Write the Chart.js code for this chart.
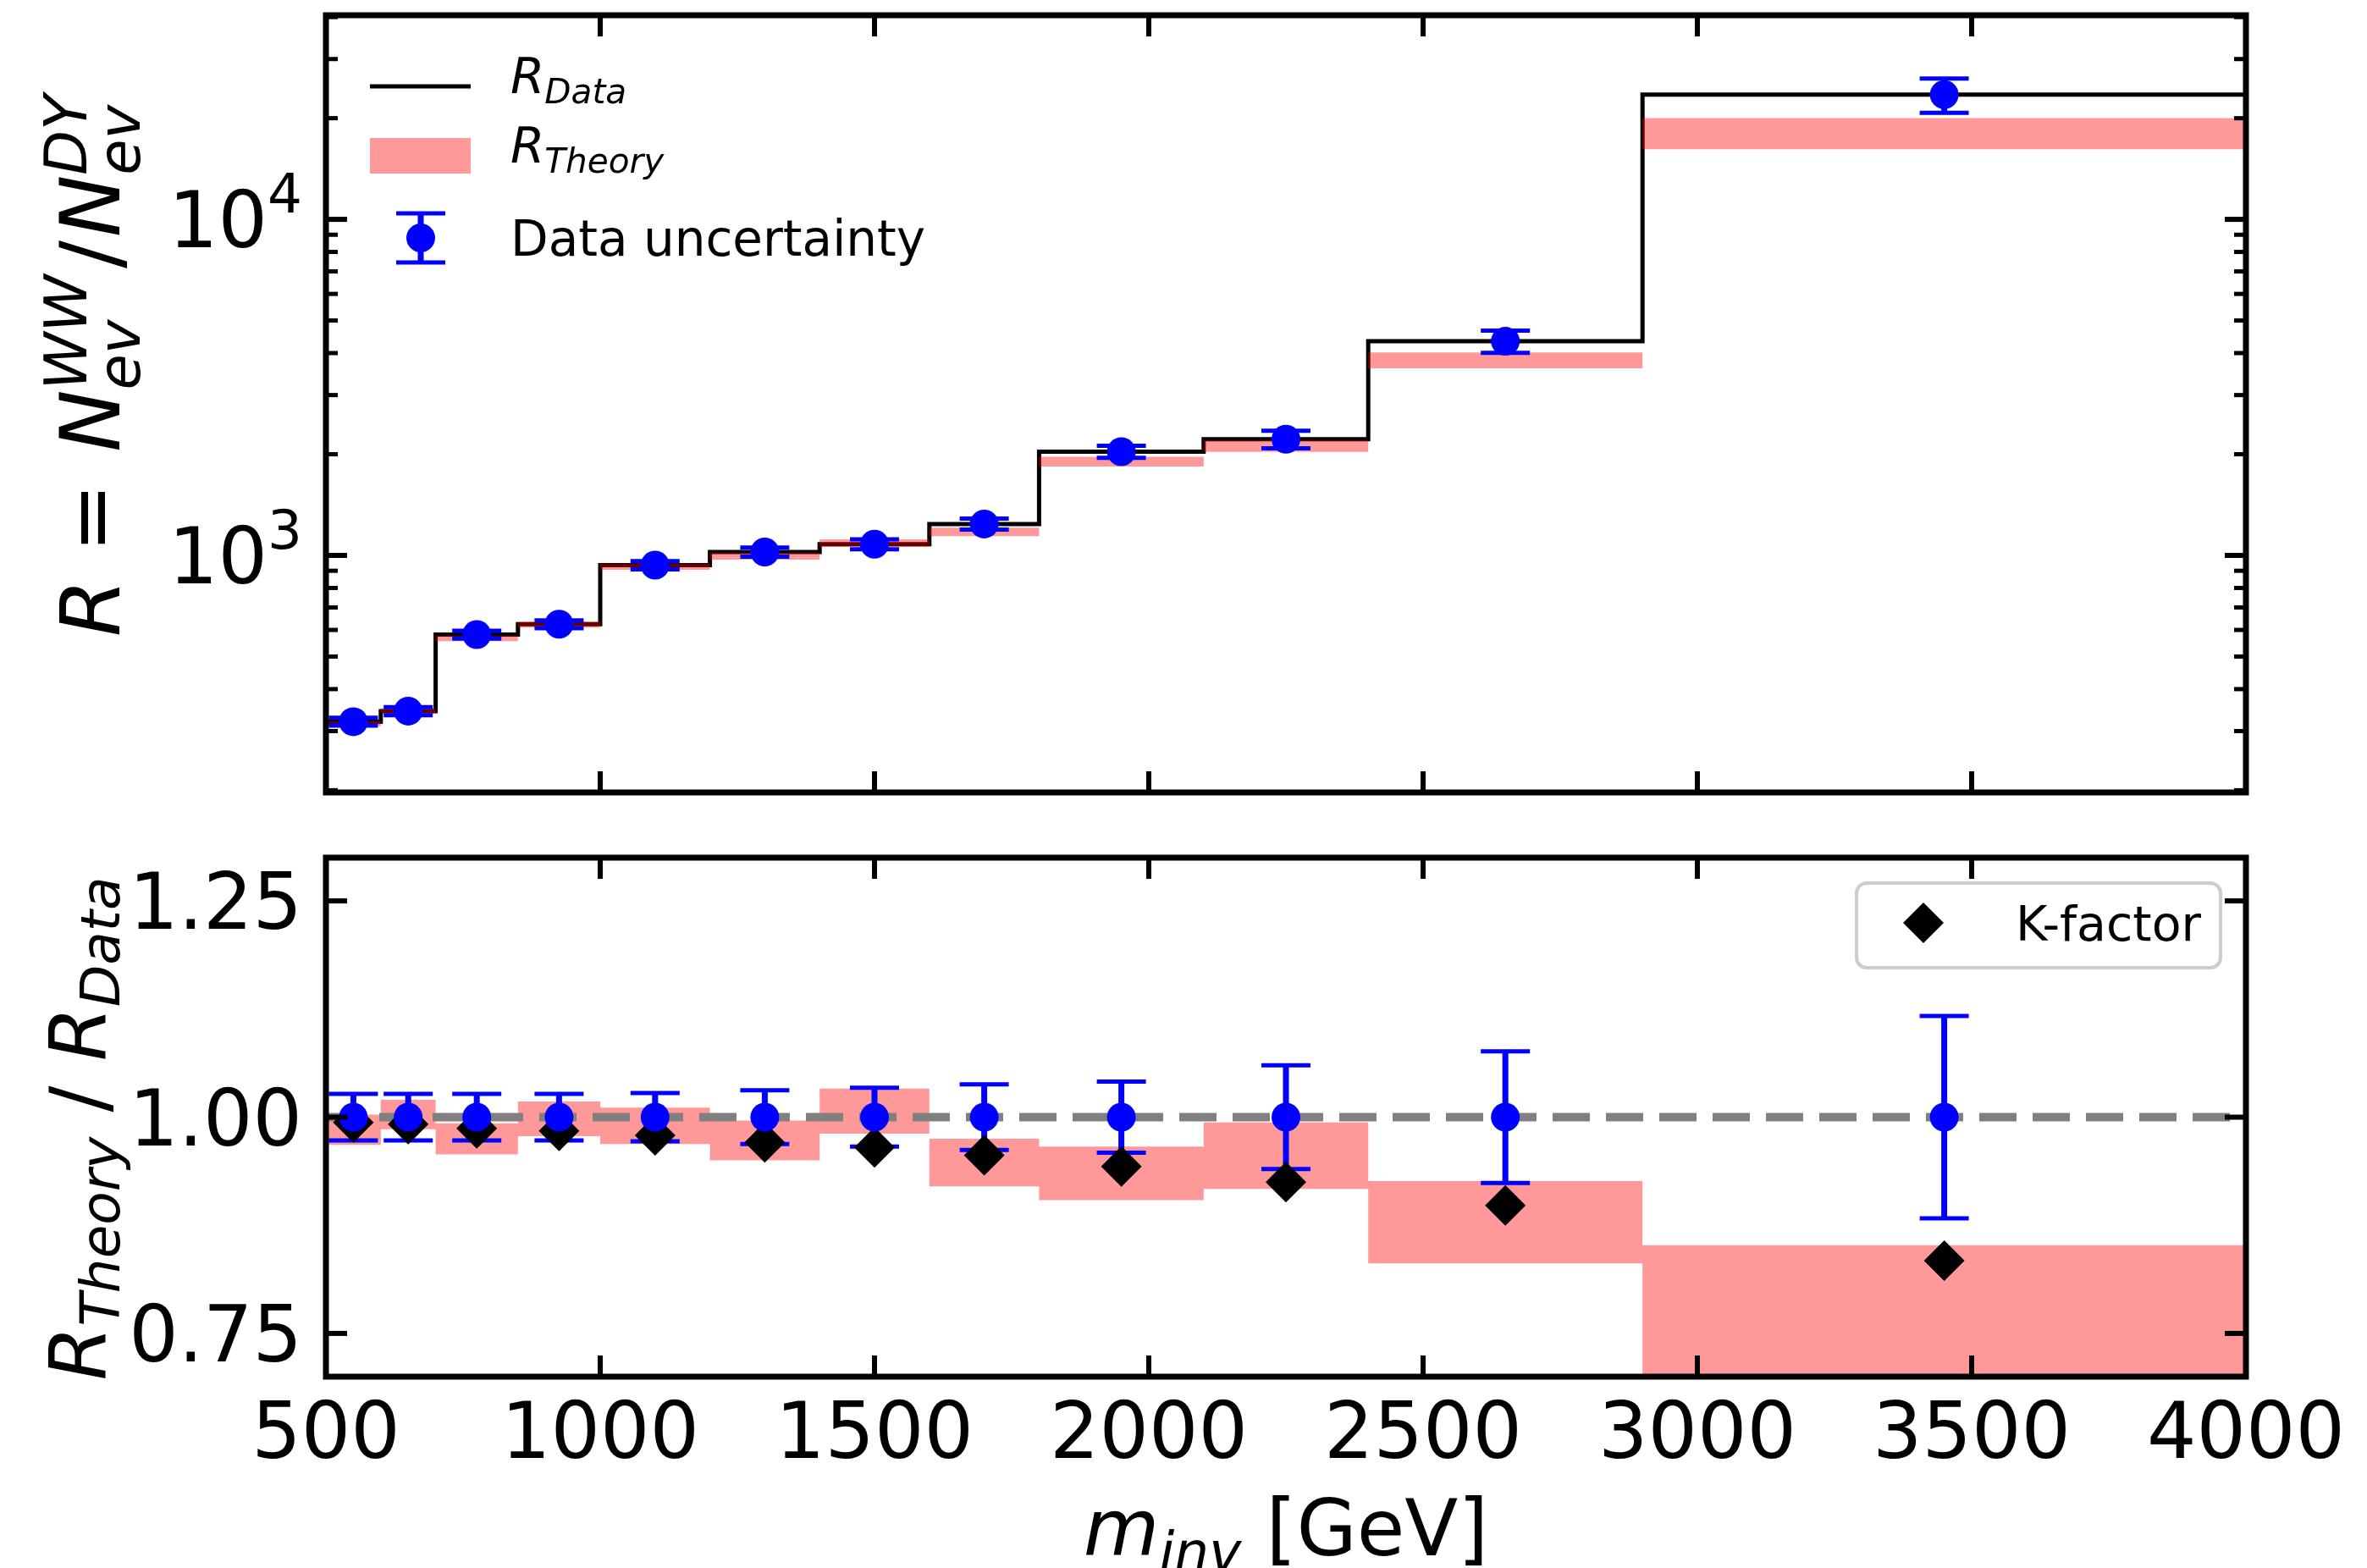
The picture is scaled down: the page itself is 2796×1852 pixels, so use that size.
<!DOCTYPE html>
<html>
<head>
<meta charset="utf-8">
<script src="https://cdn.jsdelivr.net/npm/chart.js@4.4.0/dist/chart.umd.min.js"></script>
<style>
  html, body { margin: 0; padding: 0; background: #fff; }
  #wrap { position: relative; width: 2796px; height: 1852px; }
  #topChart { position: absolute; left: 0; top: 0; }
  #ratioChart { position: absolute; left: 0; top: 980px; }
</style>
</head>
<body>
<div id="wrap">
  <canvas id="topChart" width="2796" height="980"></canvas>
  <canvas id="ratioChart" width="2796" height="872"></canvas>
</div>
<script>
// bins in m_inv [GeV]
const binEdges = [500, 600, 700, 850, 1000, 1200, 1400, 1600, 1800, 2100, 2400, 2900, 4000];
const binCenters = [550, 650, 775, 925, 1100, 1300, 1500, 1700, 1950, 2250, 2650, 3450];

// R = N_WW / N_DY
const rData = [320, 344, 581, 624, 935, 1023, 1080, 1240, 2035, 2217, 4337, 23500];
const dataErrRel = [0.027, 0.027, 0.027, 0.027, 0.028, 0.031, 0.034, 0.038, 0.041, 0.060, 0.076, 0.117];
const theoryLow = [310, 339, 556, 610, 906, 972, 1059, 1141, 1840, 2033, 3604, 16170];
const theoryHigh = [321, 351, 577, 635, 945, 1019, 1116, 1209, 1966, 2204, 4016, 20020];

// ratio panel
const dataRatio = [1, 1, 1, 1, 1, 1, 1, 1, 1, 1, 1, 1];
const ratioLow = [0.968, 0.986, 0.957, 0.978, 0.969, 0.950, 0.981, 0.920, 0.904, 0.917, 0.831, 0.688];
const ratioHigh = [1.003, 1.020, 0.993, 1.018, 1.011, 0.996, 1.033, 0.975, 0.966, 0.994, 0.926, 0.852];
const kFactor = [0.994, 0.992, 0.987, 0.984, 0.979, 0.971, 0.965, 0.956, 0.943, 0.925, 0.898, 0.834];
const refLine = 1.0;

// ticks
const xTicks = [500, 1000, 1500, 2000, 2500, 3000, 3500, 4000];
const yTicksTop = [1000, 10000];
const yTicksTopExp = ['3', '4'];
const yMinorTop = [200, 300, 400, 500, 600, 700, 800, 900, 2000, 3000, 4000, 5000, 6000, 7000, 8000, 9000, 20000, 30000, 40000];
const yTicksRatio = [0.75, 1.00, 1.25];

const FONT = '"DejaVu Sans"';
const BAND = 'rgba(255,0,0,0.4)';

function stepPoints(values) {
  const pts = values.map((v, i) => ({ x: binEdges[i], y: v }));
  pts.push({ x: binEdges[binEdges.length - 1], y: values[values.length - 1] });
  return pts;
}

function fontStr(px, italic) {
  return (italic ? 'italic ' : '') + px + 'px ' + FONT;
}

// tiny mathtext-like layout: {t, it, s, dy} or {sub, sup}
function drawRich(ctx, tokens, size, x, y, align) {
  let w = 0;
  const items = [];
  tokens.forEach(tk => {
    if (tk.sub !== undefined) {
      const f = fontStr(size * 0.7, true);
      ctx.font = f;
      const w1 = ctx.measureText(tk.sub).width, w2 = ctx.measureText(tk.sup).width;
      items.push({ t: tk.sub, x: w, dy: size * 0.24, font: f });
      items.push({ t: tk.sup, x: w, dy: -size * 0.4, font: f });
      w += Math.max(w1, w2) + (tk.gap || 0) * size;
    } else {
      const f = fontStr(size * (tk.s || 1), !!tk.it);
      ctx.font = f;
      items.push({ t: tk.t, x: w, dy: (tk.dy || 0) * size, font: f });
      w += ctx.measureText(tk.t).width + (tk.gap || 0) * size;
    }
  });
  const x0 = align === 'center' ? x - w / 2 : align === 'right' ? x - w : x;
  ctx.textAlign = 'left';
  ctx.textBaseline = 'alphabetic';
  ctx.fillStyle = '#000';
  items.forEach(it => {
    ctx.font = it.font;
    ctx.fillText(it.t, x0 + it.x, y + it.dy);
  });
}

function diamond(ctx, x, y, r) {
  ctx.beginPath();
  ctx.moveTo(x, y - r);
  ctx.lineTo(x + r, y);
  ctx.lineTo(x, y + r);
  ctx.lineTo(x - r, y);
  ctx.closePath();
  ctx.fill();
}

function errorBar(ctx, x, yTop, yBot) {
  ctx.strokeStyle = '#0000ff';
  ctx.lineWidth = 7;
  ctx.beginPath();
  ctx.moveTo(x, yTop);
  ctx.lineTo(x, yBot);
  ctx.stroke();
  ctx.lineWidth = 5;
  ctx.beginPath();
  ctx.moveTo(x - 29, yTop); ctx.lineTo(x + 29, yTop);
  ctx.moveTo(x - 29, yBot); ctx.lineTo(x + 29, yBot);
  ctx.stroke();
}

// error bars under the marker datasets
const errPlugin = {
  id: 'errbars',
  beforeDatasetDraw(chart, args, opts) {
    if (args.index !== opts.before) return;
    const { ctx, scales } = chart;
    ctx.save();
    opts.centers.forEach((c, i) => {
      const x = scales.x.getPixelForValue(c);
      const v = opts.values[i];
      const e = opts.rel[i] * opts.scale[i];
      errorBar(ctx, x, scales.y.getPixelForValue(v + e), scales.y.getPixelForValue(v - e));
    });
    ctx.restore();
  }
};

// inward ticks on all sides, spines, tick labels, axis labels
const framePlugin = {
  id: 'frame',
  afterDraw(chart, args, opts) {
    const { ctx, chartArea: a, scales } = chart;
    ctx.save();
    ctx.strokeStyle = '#000';
    ctx.lineCap = 'butt';
    const line = (x1, y1, x2, y2, w) => {
      ctx.lineWidth = w;
      ctx.beginPath(); ctx.moveTo(x1, y1); ctx.lineTo(x2, y2); ctx.stroke();
    };
    xTicks.forEach(v => {
      const px = scales.x.getPixelForValue(v);
      line(px, a.bottom, px, a.bottom - 25, 6);
      line(px, a.top, px, a.top + 25, 6);
    });
    opts.yMajor.forEach(v => {
      const py = scales.y.getPixelForValue(v);
      line(a.left, py, a.left + 25, py, 6);
      line(a.right, py, a.right - 25, py, 6);
    });
    (opts.yMinor || []).forEach(v => {
      const py = scales.y.getPixelForValue(v);
      line(a.left, py, a.left + 14, py, 5);
      line(a.right, py, a.right - 14, py, 5);
    });
    ctx.lineWidth = 7;
    ctx.strokeRect(a.left, a.top, a.right - a.left, a.bottom - a.top);

    // y tick labels
    ctx.fillStyle = '#000';
    if (opts.logLabels) {
      opts.yMajor.forEach((v, i) => {
        const py = scales.y.getPixelForValue(v);
        drawRich(ctx, [{ t: '10' }, { t: yTicksTopExp[i], s: 0.7, dy: -0.45 }], 92, a.left - 28, py + 33, 'right');
      });
    } else {
      opts.yMajor.forEach(v => {
        const py = scales.y.getPixelForValue(v);
        ctx.font = fontStr(92, false);
        ctx.textAlign = 'right';
        ctx.textBaseline = 'alphabetic';
        ctx.fillText(v.toFixed(2), a.left - 28, py + 33);
      });
    }
    if (opts.xLabels) {
      ctx.font = fontStr(92, false);
      ctx.textAlign = 'center';
      ctx.textBaseline = 'alphabetic';
      xTicks.forEach(v => ctx.fillText(String(v), scales.x.getPixelForValue(v), a.bottom + 96));
      drawRich(ctx, [{ t: 'm', it: true }, { t: 'inv', it: true, s: 0.7, dy: 0.2 }, { t: ' [GeV]' }],
        92, (a.left + a.right) / 2, 857, 'center');
    }
    // rotated y label
    ctx.save();
    ctx.translate(opts.yLabelX, opts.yLabelY);
    ctx.rotate(-Math.PI / 2);
    drawRich(ctx, opts.yLabel, opts.yLabelSize, 0, 0, 'center');
    ctx.restore();
    ctx.restore();
  }
};

// top legend (no frame)
const topLegendPlugin = {
  id: 'topLegend',
  afterDraw(chart) {
    const ctx = chart.ctx;
    ctx.save();
    ctx.strokeStyle = '#000';
    ctx.lineWidth = 5;
    ctx.beginPath(); ctx.moveTo(437, 102); ctx.lineTo(556, 102); ctx.stroke();
    drawRich(ctx, [{ t: 'R', it: true }, { t: 'Data', it: true, s: 0.7, dy: 0.2 }], 58, 603, 110, 'left');

    ctx.fillStyle = BAND;
    ctx.fillRect(437, 163, 119, 42);
    drawRich(ctx, [{ t: 'R', it: true }, { t: 'Theory', it: true, s: 0.7, dy: 0.2 }], 58, 603, 192, 'left');

    errorBar(ctx, 497, 252, 310);
    ctx.fillStyle = '#0000ff';
    ctx.beginPath(); ctx.arc(497, 281, 17, 0, Math.PI * 2); ctx.fill();
    drawRich(ctx, [{ t: 'Data uncertainty' }], 58, 603, 302, 'left');
    ctx.restore();
  }
};

// ratio legend (framed)
const ratioLegendPlugin = {
  id: 'ratioLegend',
  afterDraw(chart) {
    const ctx = chart.ctx;
    ctx.save();
    const x = 2193, y = 63, w = 430, h = 100, r = 12;
    ctx.beginPath();
    ctx.roundRect(x, y, w, h, r);
    ctx.fillStyle = 'rgba(255,255,255,0.8)';
    ctx.fill();
    ctx.strokeStyle = '#cccccc';
    ctx.lineWidth = 4;
    ctx.stroke();
    ctx.fillStyle = '#000';
    diamond(ctx, 2272, 110, 24);
    drawRich(ctx, [{ t: 'K-factor' }], 57, 2381, 131, 'left');
    ctx.restore();
  }
};

new Chart(document.getElementById('topChart'), {
  type: 'line',
  data: {
    datasets: [
      {
        label: 'Data uncertainty',
        data: binCenters.map((x, i) => ({ x, y: rData[i] })),
        showLine: false,
        pointRadius: 17,
        pointBackgroundColor: '#0000ff',
        pointBorderWidth: 0,
        order: 0
      },
      {
        label: 'R_Theory',
        data: stepPoints(theoryHigh),
        stepped: true,
        fill: 2,
        backgroundColor: BAND,
        borderColor: 'rgba(0,0,0,0)',
        borderWidth: 0,
        pointRadius: 0,
        order: 1
      },
      {
        label: 'R_Theory low',
        data: stepPoints(theoryLow),
        stepped: true,
        fill: false,
        borderColor: 'rgba(0,0,0,0)',
        borderWidth: 0,
        pointRadius: 0,
        order: 2
      },
      {
        label: 'R_Data',
        data: stepPoints(rData),
        stepped: true,
        fill: false,
        borderColor: '#000000',
        borderWidth: 5,
        pointRadius: 0,
        order: 3
      }
    ]
  },
  options: {
    responsive: false,
    animation: false,
    layout: { padding: { left: 385, right: 143, top: 18, bottom: 44 } },
    scales: {
      x: { type: 'linear', min: 500, max: 4000, display: false },
      y: { type: 'logarithmic', min: 197, max: 40500, display: false }
    },
    plugins: {
      legend: { display: false },
      tooltip: { enabled: false },
      errbars: { before: 0, centers: binCenters, values: rData, rel: dataErrRel, scale: rData },
      frame: {
        yMajor: yTicksTop,
        yMinor: yMinorTop,
        logLabels: true,
        xLabels: false,
        yLabelX: 141,
        yLabelY: 432,
        yLabelSize: 98,
        yLabel: [
          { t: 'R', it: true }, { t: ' = ', gap: 0.06 }, { t: 'N', it: true }, { sub: 'ev', sup: 'WW', gap: 0.08 },
          { t: '/', gap: 0.04 }, { t: 'N', it: true }, { sub: 'ev', sup: 'DY' }
        ]
      }
    }
  },
  plugins: [errPlugin, framePlugin, topLegendPlugin]
});

new Chart(document.getElementById('ratioChart'), {
  type: 'line',
  data: {
    datasets: [
      {
        label: 'Data uncertainty',
        data: binCenters.map((x, i) => ({ x, y: dataRatio[i] })),
        showLine: false,
        pointRadius: 17,
        pointBackgroundColor: '#0000ff',
        pointBorderWidth: 0,
        order: 0
      },
      {
        label: 'K-factor',
        data: binCenters.map((x, i) => ({ x, y: kFactor[i] })),
        showLine: false,
        pointStyle: 'rectRot',
        pointRadius: 24,
        pointBackgroundColor: '#000000',
        pointBorderWidth: 0,
        order: 1
      },
      {
        label: 'ref',
        data: [{ x: binEdges[0], y: refLine }, { x: binEdges[binEdges.length - 1], y: refLine }],
        borderColor: '#808080',
        borderWidth: 10,
        borderDash: [44, 19],
        pointRadius: 0,
        fill: false,
        order: 2
      },
      {
        label: 'ratio band',
        data: stepPoints(ratioHigh),
        stepped: true,
        fill: 4,
        backgroundColor: BAND,
        borderColor: 'rgba(0,0,0,0)',
        borderWidth: 0,
        pointRadius: 0,
        order: 3
      },
      {
        label: 'ratio band low',
        data: stepPoints(ratioLow),
        stepped: true,
        fill: false,
        borderColor: 'rgba(0,0,0,0)',
        borderWidth: 0,
        pointRadius: 0,
        order: 4
      }
    ]
  },
  options: {
    responsive: false,
    animation: false,
    layout: { padding: { left: 385, right: 143, top: 33, bottom: 226 } },
    scales: {
      x: { type: 'linear', min: 500, max: 4000, display: false },
      y: { type: 'linear', min: 0.7, max: 1.3, display: false }
    },
    plugins: {
      legend: { display: false },
      tooltip: { enabled: false },
      errbars: { before: 1, centers: binCenters, values: dataRatio, rel: dataErrRel, scale: dataRatio },
      frame: {
        yMajor: yTicksRatio,
        logLabels: false,
        xLabels: true,
        yLabelX: 125,
        yLabelY: 353,
        yLabelSize: 92,
        yLabel: [
          { t: 'R', it: true }, { t: 'Theory', it: true, s: 0.7, dy: 0.17 }, { t: ' / ' },
          { t: 'R', it: true }, { t: 'Data', it: true, s: 0.7, dy: 0.17 }
        ]
      }
    }
  },
  plugins: [errPlugin, framePlugin, ratioLegendPlugin]
});
</script>
</body>
</html>
